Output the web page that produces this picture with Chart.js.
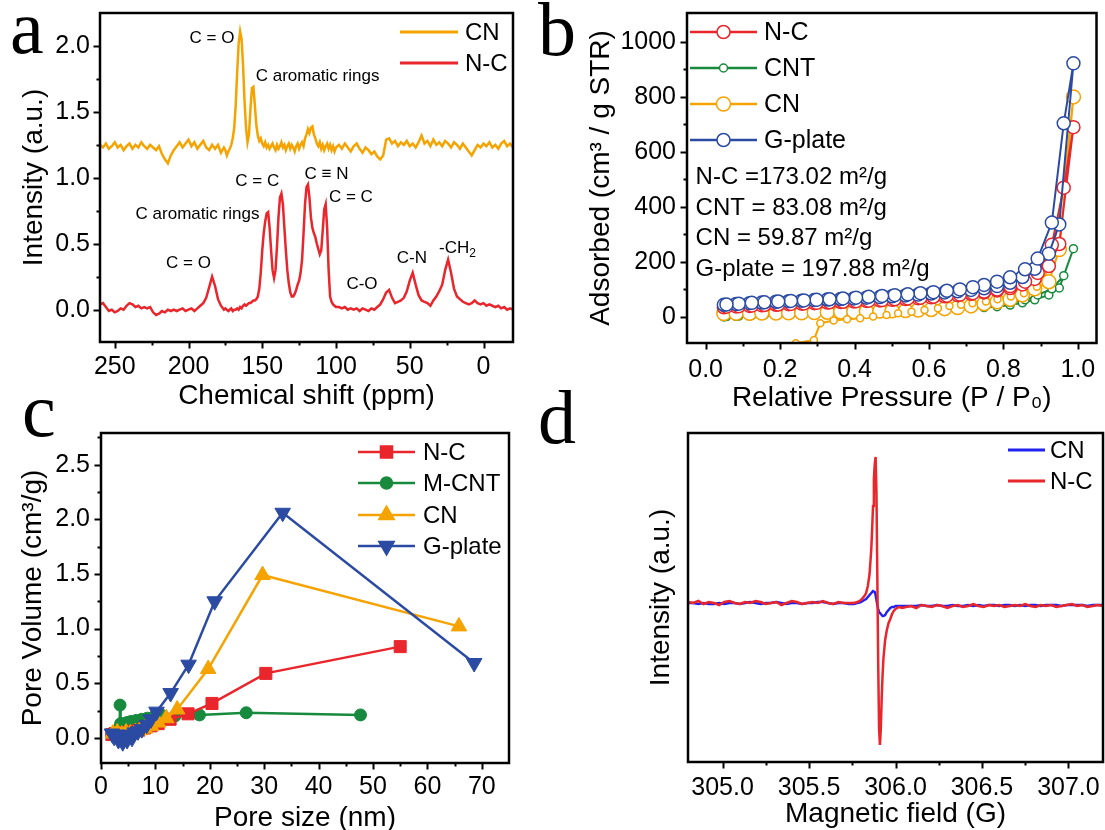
<!DOCTYPE html>
<html>
<head>
<meta charset="utf-8">
<title>N-C, CN, CNT and G-plate characterisation</title>
<script src="https://cdn.jsdelivr.net/npm/chart.js@4.4.1/dist/chart.umd.min.js"></script>
<style>
  html, body { margin: 0; padding: 0; background: #fff; }
  body { position: relative; width: 1105px; height: 830px; overflow: hidden; }
  .panel { position: absolute; }
  .panel canvas { display: block; }
  .tag { position: absolute; font-family: "Liberation Serif", "Times New Roman", serif; font-size: 76px; line-height: 76px; color: #000; z-index: 2; }
</style>
</head>
<body>
<div class="panel" style="left:0;top:0;width:530px;height:415px"><canvas id="nmr"></canvas></div>
<div class="panel" style="left:530px;top:0;width:575px;height:415px"><canvas id="bet"></canvas></div>
<div class="panel" style="left:0;top:415px;width:530px;height:430px"><canvas id="pore"></canvas></div>
<div class="panel" style="left:530px;top:415px;width:575px;height:430px"><canvas id="epr"></canvas></div>
<div class="tag" style="left:10px;top:-11px">a</div>
<div class="tag" style="left:538px;top:-9px">b</div>
<div class="tag" style="left:22px;top:372px">c</div>
<div class="tag" style="left:538px;top:379px">d</div>

<script>
// ---------- panel a: solid-state 13C NMR ----------
const shiftPpm = [
  260,258,256,254,252,250,248,246,244,242,240,238,236,234,232,230,228,226,224,222,220,218,216,214,212,210,208,206,204,202,200,198,196,194,192,190,188,186,184,182,180,178,176,
  175,174,173,172,171,170,169,168,167,166,165,164,163,162,161,160,159,158,157,156,155,154,153,152,151,150,149,148,147,146,145,144,143,142,141,140,139,138,137,136,135,134,133,132,131,130,129,128,127,126,125,124,123,122,121,120,119,118,117,116,115,114,113,112,111,110,109,108,107,106,105,104,103,102,101,100,
  98,96,94,92,90,88,86,84,82,80,78,76,74,72,70,68,66,64,62,60,58,56,54,52,50,48,46,44,42,40,38,36,34,32,30,28,26,24,22,20,18,16,14,12,10,8,6,4,2,0,-2,-4,-6,-8,-10,-12,-14,-16,-18,-20
];
const cnNmr = [
  1.25,1.23,1.26,1.22,1.24,1.27,1.23,1.25,1.21,1.24,1.26,1.22,1.25,1.23,1.27,1.24,1.22,1.25,1.23,1.21,1.24,1.18,1.14,1.11,1.17,1.21,1.24,1.27,1.23,1.26,1.29,1.24,1.27,1.22,1.25,1.28,1.23,1.21,1.25,1.22,1.25,1.19,1.23,
  1.21,1.17,1.20,1.22,1.25,1.30,1.38,1.55,1.80,2.02,
  2.11,2.05,1.85,1.58,1.38,1.27,1.33,1.52,1.68,1.69,
  1.55,1.40,1.32,1.28,1.30,1.26,1.24,1.27,1.23,1.25,
  1.22,1.24,1.26,1.23,1.21,1.25,1.22,1.24,1.27,1.23,
  1.25,1.21,1.24,1.26,1.22,1.25,1.23,1.20,1.24,1.26,
  1.22,1.25,1.27,1.24,1.30,1.33,1.37,1.34,1.38,1.39,
  1.33,1.30,1.26,1.24,1.27,1.22,1.25,1.21,1.24,1.26,
  1.22,1.25,1.21,1.24,1.20,1.23,
  1.25,1.22,1.26,1.23,1.20,1.24,1.26,1.22,1.19,1.23,
  1.21,1.18,1.20,1.16,1.14,1.17,1.29,1.30,1.26,1.28,
  1.24,1.27,1.25,1.28,1.24,1.26,1.23,1.27,1.32,1.26,
  1.28,1.24,1.29,1.25,1.27,1.24,1.28,1.26,1.23,1.27,
  1.25,1.22,1.26,1.23,1.20,1.17,1.21,1.25,1.23,1.26,
  1.24,1.27,1.23,1.25,1.22,1.26,1.28,1.24,1.26,1.23
];
const ncNmr = [
  0.04,0.05,0.02,-0.01,0.00,-0.02,-0.01,0.01,0.00,0.03,0.05,0.04,0.02,0.03,0.01,0.02,0.01,0.02,-0.02,-0.04,-0.03,-0.01,-0.02,0.00,-0.01,0.00,-0.01,0.00,0.01,-0.01,0.00,0.01,-0.01,0.01,0.03,0.05,0.09,0.17,0.25,0.18,0.08,0.03,0.00,
  0.01,0.00,-0.01,0.00,0.01,-0.01,0.00,0.00,0.01,0.00,
  0.02,0.01,0.03,0.04,0.03,0.04,0.05,0.05,0.06,0.07,
  0.07,0.08,0.10,0.16,0.28,0.45,0.58,0.67,0.73,0.74,
  0.62,0.45,0.30,0.24,0.30,0.48,0.70,0.85,0.88,0.80,
  0.62,0.45,0.30,0.20,0.13,0.10,0.10,0.12,0.15,0.19,
  0.22,0.28,0.38,0.58,0.80,0.93,0.95,0.85,0.70,0.62,
  0.58,0.55,0.50,0.46,0.42,0.45,0.60,0.76,0.80,0.62,
  0.30,0.10,0.06,0.04,0.03,0.02,
  0.02,0.01,0.02,0.00,0.01,0.00,0.01,-0.01,0.01,0.00,
  -0.01,0.01,0.00,0.02,0.04,0.08,0.13,0.15,0.09,0.05,
  0.06,0.07,0.09,0.14,0.22,0.28,0.19,0.11,0.07,0.06,
  0.05,0.03,0.07,0.10,0.14,0.19,0.30,0.38,0.28,0.16,
  0.10,0.08,0.06,0.05,0.04,0.05,0.07,0.05,0.04,0.05,
  0.03,0.04,0.03,0.02,0.03,0.01,0.02,0.00,0.01,0.00
];
const nmrXTicks = [250, 200, 150, 100, 50, 0];
const nmrXMinor = [225, 175, 125, 75, 25];
const nmrYTicks = [0, 0.5, 1.0, 1.5, 2.0];
const nmrYMinor = [0.25, 0.75, 1.25, 1.75];
const nmrNotes = [
  { text: 'C = O', ppm: 184.1, y: 2.057 },
  { text: 'C aromatic rings', ppm: 112.5, y: 1.773 },
  { text: 'C = C', ppm: 153.4, y: 0.970 },
  { text: 'C aromatic rings', ppm: 193.9, y: 0.727 },
  { text: 'C \u2261 N', ppm: 106.4, y: 1.023 },
  { text: 'C = C', ppm: 89.9, y: 0.856 },
  { text: 'C = O', ppm: 200.0, y: 0.348 },
  { text: 'C-O', ppm: 82.4, y: 0.189 },
  { text: 'C-N', ppm: 48.6, y: 0.386 },
  { text: '-CH', sub: '2', ppm: 17.6, y: 0.462 }
];

// ---------- panel b: N2 adsorption-desorption isotherms ----------
const ncP = [0.049,0.082,0.118,0.151,0.189,0.223,0.258,0.292,0.327,0.363,0.398,0.432,0.468,0.501,0.537,0.571,0.606,0.642,0.677,0.713,0.748,0.783,0.818,0.851,0.884,0.922,0.950,0.988,
             0.962,0.930,0.892,0.858,0.818,0.783,0.748,0.718,0.683,0.648,0.612,0.577,0.543,0.508,0.474,0.438,0.404,0.369,0.333,0.298,0.264,0.229,0.195,0.158,0.124,0.089,0.056];
const ncV = [35,38,40,42,44,46,48,50,52,54,56,58,60,62,65,68,71,75,79,84,89,96,105,118,138,185,265,690,
             470,262,160,128,112,100,92,86,81,77,73,70,67,64,61,59,57,55,53,51,49,47,45,43,41,39,37];
const cntP = ncP;
const cntV = [0,2,4,5,6,7,8,9,10,11,12,13,14,16,18,20,22,25,28,31,34,37,43,51,62,80,105,248,
              150,102,80,62,52,46,42,39,36,33,30,28,26,24,22,20,18,16,14,13,12,10,8,7,5,3,1];
const cnP = [0.049,0.082,0.118,0.151,0.189,0.223,0.258,0.292,0.327,0.363,0.398,0.432,0.468,0.501,0.537,0.571,0.606,0.642,0.677,0.713,0.748,0.783,0.818,0.851,0.884,0.922,0.950,0.988,
             0.962,0.926,0.890,0.855,0.820,0.784,0.753,0.717,0.686,0.655,0.624,0.588,0.553,0.517,0.486,0.450,0.415,0.380,0.344,0.308,0.291,0.242,0.215];
const cnV = [12,13,13,14,14,15,15,16,17,18,19,20,21,22,23,25,27,30,34,40,48,55,64,80,102,128,245,800,
             480,183,110,86,74,64,56,50,44,40,31,25,19,13,7,1,-5,-9,-13,-23,-84,-96,-130];
const gPlateP = ncP;
const gPlateV = [44,47,50,52,55,57,59,61,63,65,67,70,72,75,78,81,85,89,93,98,104,112,124,145,175,230,336,922,
                 704,343,212,173,144,128,116,108,100,95,90,86,82,79,76,73,70,67,64,62,60,58,56,53,51,48,45];
const adsorptionCount = 28;
const betXTicks = [0, 0.2, 0.4, 0.6, 0.8, 1.0];
const betXMinor = [0.1, 0.3, 0.5, 0.7, 0.9];
const betYTicks = [0, 200, 400, 600, 800, 1000];
const betYMinor = [100, 300, 500, 700, 900];
const surfaceAreas = ['N-C =173.02 m\u00b2/g', 'CNT = 83.08 m\u00b2/g', 'CN = 59.87 m\u00b2/g', 'G-plate = 197.88 m\u00b2/g'];
const surfaceAreaAnchors = [509, 395, 284, 171];

// ---------- panel c: pore size distribution ----------
const ncPoreX = [2.0,2.6,3.2,3.8,4.4,5.0,5.8,6.9,8.0,9.2,10.5,12.7,16.0,20.4,30.3,55.0];
const ncPoreY = [0.03,0.04,0.03,0.05,0.04,0.05,0.06,0.07,0.09,0.11,0.13,0.17,0.22,0.315,0.59,0.835];
const mcntPoreX = [2.0,2.5,3.0,3.4,3.5,3.6,4.2,4.8,5.5,6.5,7.5,8.5,9.6,11.1,13.6,18.1,26.7,47.7];
const mcntPoreY = [0.03,0.05,0.07,0.09,0.30,0.13,0.13,0.14,0.15,0.16,0.17,0.18,0.19,0.21,0.20,0.21,0.23,0.21];
const cnPoreX = [2.2,3.0,3.8,4.6,5.4,6.3,7.2,8.1,9.2,10.5,12.0,14.0,19.7,29.7,65.8];
const cnPoreY = [0.04,0.05,0.03,0.05,0.04,0.05,0.07,0.085,0.11,0.14,0.18,0.26,0.63,1.49,1.02];
const gpPoreX = [2.0,2.4,2.8,3.2,3.6,4.0,4.4,4.8,5.2,5.7,6.2,6.8,7.5,8.4,9.2,10.2,12.8,16.1,20.9,33.4,68.6];
const gpPoreY = [0.04,0.01,0.03,-0.02,0.02,-0.04,0.01,-0.02,0.03,0.00,0.05,0.06,0.08,0.12,0.17,0.24,0.41,0.67,1.25,2.06,0.685];
const poreXTicks = [0, 10, 20, 30, 40, 50, 60, 70];
const poreXMinor = [5, 15, 25, 35, 45, 55, 65];
const poreYTicks = [0, 0.5, 1.0, 1.5, 2.0, 2.5];
const poreYMinor = [0.25, 0.75, 1.25, 1.75, 2.25, 2.75];

// ---------- panel d: EPR ----------
const fieldG = [
  304.80,304.83,304.86,304.89,304.92,304.95,304.98,305.01,305.04,305.07,305.10,305.13,305.16,305.19,305.22,305.25,305.28,305.31,305.34,305.37,305.40,305.43,305.46,305.49,305.52,305.55,305.58,305.61,305.64,305.67,305.70,305.73,
  305.76,305.78,305.80,305.82,305.83,305.84,305.85,305.86,305.865,305.87,305.875,305.88,305.885,305.89,305.895,305.90,305.905,305.91,305.915,305.92,305.925,305.93,305.94,305.95,305.96,305.97,305.98,305.99,306.00,306.02,306.04,
  306.06,306.09,306.12,306.15,306.18,306.21,306.24,306.27,306.30,306.33,306.36,306.39,306.42,306.45,306.48,306.51,306.54,306.57,306.60,306.63,306.66,306.69,306.72,306.75,306.78,306.81,306.84,306.87,306.90,306.93,306.96,306.99,307.02,307.05,307.08,307.11,307.14,307.17,307.20
];
const cnEpr = [
  1,1,0,1,0,0,1,0,1,1,0,1,2,1,0,1,1,2,1,0,1,1,0,1,1,2,2,1,0,1,1,0,
  0,1,2,4,5,7,9,11,12,13,13,12,9,4,-1,-5,-8,-9,-10,-11,-12,-12,-11,-8,-6,-4,-3,-3,-2,-2,-2,
  -2,-2,-2,-1,-2,-2,-1,-2,-2,-1,-2,-2,-1,-2,-1,-2,-1,-1,-2,-1,-1,-2,-1,-2,-1,-1,-2,-1,-1,-1,-2,-1,-1,-1,-1,-2,-1,-1,-1
];
const ncEpr = [
  2,1,3,0,2,1,-1,2,3,1,0,2,1,3,2,0,1,2,-1,1,3,2,0,1,2,1,3,1,0,2,1,1,
  1,2,4,8,11,18,30,55,75,98,125,140,147,110,25,-60,-125,-141,-125,-95,-72,-55,-36,-26,-19,-15,-10,-7,-5,-3,-4,
  -3,-2,-4,-1,-2,-3,-1,-2,-4,-2,-1,-3,-2,0,-2,-3,-1,-2,-1,-3,-2,-1,-2,0,-2,-3,-1,-2,-1,-3,-2,-1,0,-2,-1,-3,-2,-1,-2
];
const eprXTicks = [305.0, 305.5, 306.0, 306.5, 307.0];
const eprXMinor = [305.25, 305.75, 306.25, 306.75];

// ---------- shared drawing helpers ----------
const FONT = '"Liberation Sans", Arial, "DejaVu Sans", sans-serif';
const RED = '#e8262b', ORANGE = '#f5a300', GREEN = '#178a3d', NAVY = '#2b4ba3', BLUE = '#2222f0';
Chart.defaults.font.family = FONT;
Chart.defaults.color = '#000';

const pts = (xs, ys) => xs.map((x, i) => ({ x, y: ys[i] }));

function axisOptions(a, dir, size) {
  return {
    type: 'linear',
    position: dir === 'x' ? 'bottom' : 'left',
    min: a.min, max: a.max, reverse: !!a.reverse,
    grid: { display: false, drawTicks: false },
    border: { display: false },
    afterBuildTicks(scale) { scale.ticks = a.major.map(v => ({ value: v })); },
    afterFit(scale) {
      if (dir === 'x') scale.height = size; else scale.width = size;
      scale.paddingLeft = 0; scale.paddingRight = 0; scale.paddingTop = 0; scale.paddingBottom = 0;
    },
    ticks: {
      display: a.labels !== false, autoSkip: false, maxRotation: 0, minRotation: 0,
      padding: a.pad, color: '#000', font: { family: FONT, size: 25 },
      callback: v => a.fmt(v)
    },
    title: {
      display: true, text: a.title, color: '#000',
      font: { family: FONT, size: 28 },
      padding: { top: a.titlePad, bottom: a.titlePad }
    }
  };
}

function marker(ctx, style, x, y, r, color, fill) {
  ctx.save();
  ctx.fillStyle = fill; ctx.strokeStyle = color; ctx.lineWidth = 1.5;
  ctx.beginPath();
  if (style === 'circle') ctx.arc(x, y, r, 0, Math.PI * 2);
  else if (style === 'rect') { const s = r * Math.SQRT1_2; ctx.rect(x - s, y - s, 2 * s, 2 * s); }
  else if (style === 'triangle' || style === 'down') {
    const k = style === 'down' ? -1 : 1;
    for (let i = 0; i < 3; i++) {
      const t = i * 2 * Math.PI / 3;
      const px = x + Math.sin(t) * r, py = y - k * Math.cos(t) * r;
      if (i === 0) ctx.moveTo(px, py); else ctx.lineTo(px, py);
    }
    ctx.closePath();
  }
  ctx.fill(); ctx.stroke();
  ctx.restore();
}

function legendRow(ctx, row) {
  ctx.save();
  ctx.strokeStyle = row.color; ctx.lineWidth = row.lw;
  ctx.beginPath(); ctx.moveTo(row.x1, row.y); ctx.lineTo(row.x2, row.y); ctx.stroke();
  if (row.style) marker(ctx, row.style, (row.x1 + row.x2) / 2, row.y, row.r, row.color, row.fill);
  ctx.fillStyle = '#000'; ctx.font = row.size + 'px ' + FONT;
  ctx.textAlign = 'left'; ctx.textBaseline = 'middle';
  ctx.fillText(row.text, row.tx, row.y + 1);
  ctx.restore();
}

function decor(spec) {
  return {
    id: 'decor',
    afterDraw(chart) {
      const { ctx, chartArea: a } = chart;
      const xs = chart.scales.x, ys = chart.scales.y;
      ctx.save();
      ctx.strokeStyle = '#000'; ctx.lineWidth = 2;
      const marks = (scale, vals, len, horiz) => vals.forEach(v => {
        const p = Math.round(scale.getPixelForValue(v)) + 0.5;
        ctx.beginPath();
        if (horiz) { ctx.moveTo(p, a.bottom); ctx.lineTo(p, a.bottom + len); }
        else { ctx.moveTo(a.left, p); ctx.lineTo(a.left - len, p); }
        ctx.stroke();
      });
      marks(xs, spec.x.major, 6.5, true);
      marks(xs, spec.x.minor || [], 3.5, true);
      if (spec.y.marks !== false) {
        marks(ys, spec.y.major, 6.5, false);
        marks(ys, spec.y.minor || [], 3.5, false);
      }
      ctx.lineWidth = 2.5;
      ctx.strokeRect(a.left, a.top, a.right - a.left, a.bottom - a.top);
      if (spec.extra) spec.extra(ctx, chart);
      ctx.restore();
    }
  };
}

function buildChart(id, spec) {
  const canvas = document.getElementById(id);
  const W = canvas.parentElement.clientWidth, H = canvas.parentElement.clientHeight;
  const area = spec.area;
  return new Chart(canvas, {
    type: 'line',
    data: { datasets: spec.datasets },
    options: {
      responsive: true, maintainAspectRatio: false, animation: false, devicePixelRatio: 1,
      events: [],
      layout: { padding: { left: 0, top: area.top, right: W - area.right, bottom: 0 } },
      plugins: { legend: { display: false }, tooltip: { enabled: false } },
      scales: { x: axisOptions(spec.x, 'x', H - area.bottom), y: axisOptions(spec.y, 'y', area.left) }
    },
    plugins: [decor(spec)]
  });
}

const lineSet = (data, color, width, extra) => Object.assign({
  data, borderColor: color, borderWidth: width, pointRadius: 0, tension: 0, fill: false
}, extra || {});

// ---------- a ----------
buildChart('nmr', {
  area: { left: 100, top: 13, right: 513, bottom: 342 },
  x: { min: -20, max: 260, reverse: true, major: nmrXTicks, minor: nmrXMinor, fmt: v => String(v),
       pad: 10, title: 'Chemical shift (ppm)', titlePad: 1.5 },
  y: { min: -0.245, max: 2.25, major: nmrYTicks, minor: nmrYMinor, fmt: v => v.toFixed(1),
       pad: 10, title: 'Intensity (a.u.)', titlePad: 17 },
  datasets: [
    lineSet(pts(shiftPpm, cnNmr), ORANGE, 2.5),
    lineSet(pts(shiftPpm, ncNmr), RED, 2.5)
  ],
  extra(ctx, chart) {
    const xs = chart.scales.x, ys = chart.scales.y;
    legendRow(ctx, { x1: 400, x2: 458, y: 32, color: ORANGE, lw: 3, text: 'CN', tx: 465, size: 24 });
    legendRow(ctx, { x1: 400, x2: 458, y: 63, color: RED, lw: 3, text: 'N-C', tx: 465, size: 24 });
    ctx.fillStyle = '#000'; ctx.textBaseline = 'middle';
    nmrNotes.forEach(n => {
      const cx = xs.getPixelForValue(n.ppm), cy = ys.getPixelForValue(n.y);
      ctx.font = '17px ' + FONT;
      if (n.sub) {
        const w1 = ctx.measureText(n.text).width;
        ctx.font = '12px ' + FONT;
        const w2 = ctx.measureText(n.sub).width;
        const x0 = cx - (w1 + w2) / 2;
        ctx.textAlign = 'left';
        ctx.fillText(n.sub, x0 + w1, cy + 5);
        ctx.font = '17px ' + FONT;
        ctx.fillText(n.text, x0, cy);
      } else {
        ctx.textAlign = 'center';
        ctx.fillText(n.text, cx, cy);
      }
    });
  }
});

// ---------- b ----------
const openCircles = (color, r, extra) => Object.assign({
  borderColor: color, borderWidth: 2, pointStyle: 'circle', pointRadius: r,
  pointBackgroundColor: '#fff', pointBorderColor: color, pointBorderWidth: 1.5,
  tension: 0, fill: false
}, extra || {});

buildChart('bet', {
  area: { left: 157, top: 13, right: 569, bottom: 343 },
  x: { min: -0.05, max: 1.05, major: betXTicks, minor: betXMinor, fmt: v => v.toFixed(1),
       pad: 12, title: 'Relative Pressure (P / P\u2080)', titlePad: 0 },
  y: { min: -95, max: 1105, major: betYTicks, minor: betYMinor, fmt: v => String(v),
       pad: 11, title: 'Adsorbed (cm\u00b3 / g STR)', titlePad: 54 },
  datasets: [
    Object.assign(openCircles(NAVY, 6.5), { data: pts(gPlateP, gPlateV), order: 0 }),
    Object.assign(openCircles(RED, 6.5), { data: pts(ncP, ncV), order: 1 }),
    Object.assign(openCircles(ORANGE, 7, { pointRadius: c => c.dataIndex < adsorptionCount ? 7 : 3.5 }), { data: pts(cnP, cnV), order: 2 }),
    Object.assign(openCircles(GREEN, 4), { data: pts(cntP, cntV), order: 3 })
  ],
  extra(ctx, chart) {
    const xs = chart.scales.x, ys = chart.scales.y;
    const rows = [
      { text: 'N-C', color: RED, r: 6.5, y: 32 },
      { text: 'CNT', color: GREEN, r: 4, y: 68 },
      { text: 'CN', color: ORANGE, r: 7, y: 104 },
      { text: 'G-plate', color: NAVY, r: 6.5, y: 140 }
    ];
    rows.forEach(r => legendRow(ctx, { x1: 160, x2: 227, y: r.y, color: r.color, lw: 2.5, style: 'circle',
      r: r.r, fill: '#fff', text: r.text, tx: 234, size: 25 }));
    ctx.fillStyle = '#000'; ctx.font = '24px ' + FONT;
    ctx.textAlign = 'left'; ctx.textBaseline = 'middle';
    surfaceAreas.forEach((t, i) => ctx.fillText(t, xs.getPixelForValue(-0.027), ys.getPixelForValue(surfaceAreaAnchors[i])));
  }
});

// ---------- c ----------
const filledMarks = (color, style, r, extra) => Object.assign({
  borderColor: color, borderWidth: 2.5, pointStyle: style, pointRadius: r,
  pointBackgroundColor: color, pointBorderColor: color, pointBorderWidth: 1,
  tension: 0, fill: false
}, extra || {});

buildChart('pore', {
  area: { left: 101, top: 18, right: 509, bottom: 348 },
  x: { min: 0, max: 75, major: poreXTicks, minor: poreXMinor, fmt: v => String(v),
       pad: 9, title: 'Pore size (nm)', titlePad: 10 },
  y: { min: -0.23, max: 2.79, major: poreYTicks, minor: poreYMinor, fmt: v => v.toFixed(1),
       pad: 11, title: 'Pore Volume (cm\u00b3/g)', titlePad: 16 },
  datasets: [
    Object.assign(filledMarks(NAVY, 'triangle', 9, { pointRotation: 180 }), { data: pts(gpPoreX, gpPoreY), order: 0 }),
    Object.assign(filledMarks(ORANGE, 'triangle', 9), { data: pts(cnPoreX, cnPoreY), order: 1 }),
    Object.assign(filledMarks(RED, 'rect', 8.5), { data: pts(ncPoreX, ncPoreY), order: 2 }),
    Object.assign(filledMarks(GREEN, 'circle', 6), { data: pts(mcntPoreX, mcntPoreY), order: 3 })
  ],
  extra(ctx) {
    const rows = [
      { text: 'N-C', color: RED, style: 'rect', r: 8.5, y: 37 },
      { text: 'M-CNT', color: GREEN, style: 'circle', r: 6, y: 68 },
      { text: 'CN', color: ORANGE, style: 'triangle', r: 9, y: 100 },
      { text: 'G-plate', color: NAVY, style: 'down', r: 9, y: 131 }
    ];
    rows.forEach(r => legendRow(ctx, { x1: 358, x2: 415, y: r.y, color: r.color, lw: 2.5, style: r.style,
      r: r.r, fill: r.color, text: r.text, tx: 423, size: 24 }));
  }
});

// ---------- d ----------
buildChart('epr', {
  area: { left: 158, top: 18, right: 573, bottom: 347 },
  x: { min: 304.8, max: 307.2, major: eprXTicks, minor: eprXMinor, fmt: v => v.toFixed(1),
       pad: 11, title: 'Magnetic field (G)', titlePad: 14 },
  y: { min: -158, max: 171, major: [], minor: [], marks: false, labels: false, fmt: v => '',
       pad: 0, title: 'Intensity (a.u.)', titlePad: 114 },
  datasets: [
    lineSet(pts(fieldG, cnEpr), BLUE, 2.5, { order: 1 }),
    lineSet(pts(fieldG, ncEpr), RED, 2.5, { order: 0 })
  ],
  extra(ctx) {
    legendRow(ctx, { x1: 478, x2: 515, y: 35, color: BLUE, lw: 3, text: 'CN', tx: 520, size: 24 });
    legendRow(ctx, { x1: 478, x2: 515, y: 66, color: RED, lw: 3, text: 'N-C', tx: 520, size: 24 });
  }
});
</script>
</body>
</html>
